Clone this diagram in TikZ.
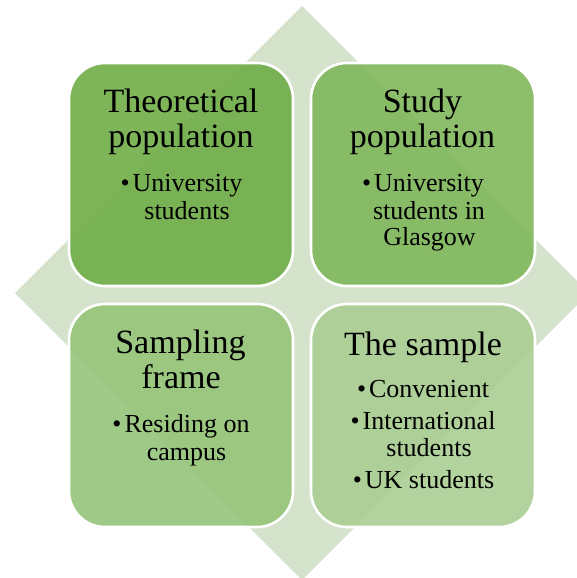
\documentclass[tikz,border=0pt]{standalone}
\usepackage{fontspec}
\setmainfont{Liberation Serif}
\definecolor{diam}{HTML}{D5E3CC}
\definecolor{ctl}{HTML}{70AD47}
\definecolor{ctr}{HTML}{80B75C}
\definecolor{cbl}{HTML}{95C479}
\definecolor{cbr}{HTML}{AACF93}
\tikzset{
  quad/.style={draw=white, line width=2.6pt, rounded corners=36pt, minimum width=224pt, minimum height=223pt, fill opacity=0.9, inner sep=0pt},
  ttl/.style={anchor=base, inner sep=0pt, font=\fontsize{34}{40}\selectfont},
  blt/.style={anchor=base, inner sep=0pt, font=\fontsize{26}{30}\selectfont},
}
\newcommand{\bul}{•\kern3pt}
\begin{document}
\begin{tikzpicture}[x=1pt,y=-1pt]
\clip (0,0) rectangle (577,578);
\fill[white] (0,0) rectangle (577,578);
\fill[diam] (302,6) -- (589,293) -- (302,580) -- (15,293) -- cycle;
\node[quad, fill=ctl] (tl) at (181,174.5) {};
\node[quad, fill=ctr] (tr) at (423,174.5) {};
\node[quad, fill=cbl] (bl) at (181,415.5) {};
\node[quad, fill=cbr] (br) at (423,415.5) {};
% top-left
\node[ttl] (tl1) at (181,112) {Theoretical};
\node[ttl] (tl2) at (181,147) {population};
\node[blt] (tl3) at (181.5,191) {\bul University};
\node[blt] (tl4) at (187,219) {students};
% top-right
\node[ttl] (tr1) at (422.5,112) {Study};
\node[ttl] (tr2) at (422.5,147) {population};
\node[blt] (tr3) at (423,191) {\bul University};
\node[blt] (tr4) at (429,219) {students in};
\node[blt] (tr5) at (429.5,245.5) {Glasgow};
% bottom-left
\node[ttl] (bl1) at (180.5,353) {Sampling};
\node[ttl] (bl2) at (181,388) {frame};
\node[blt] (bl3) at (181,432) {\bul Residing on};
\node[blt] (bl4) at (186.5,460) {campus};
% bottom-right
\node[ttl] (br1) at (423,355) {The sample};
\node[blt] (br2) at (423,397.5) {\bul Convenient};
\node[blt] (br3) at (423,429) {\bul International};
\node[blt] (br4) at (429,456) {students};
\node[blt] (br5) at (423.5,488) {\bul UK students};
\end{tikzpicture}
\end{document}
